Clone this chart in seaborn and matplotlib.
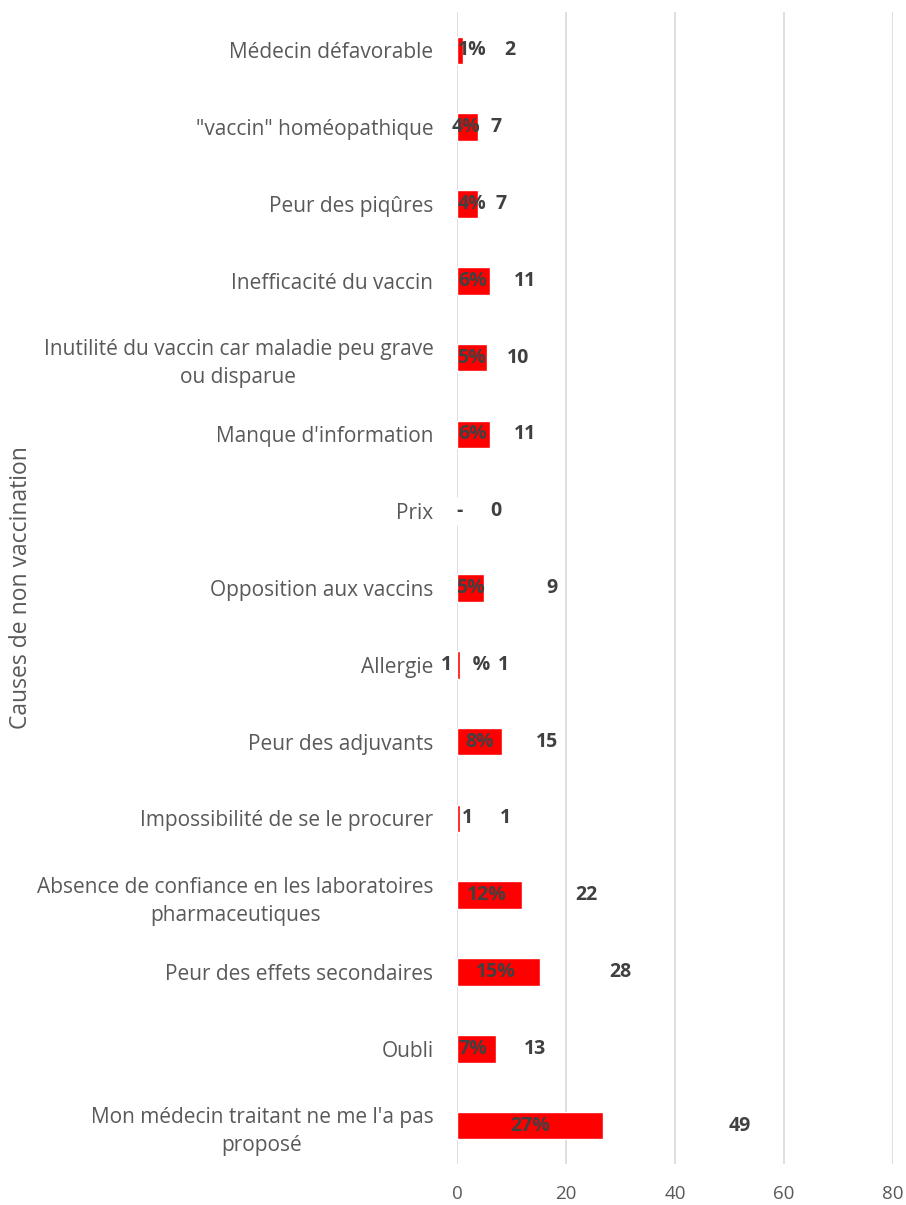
import matplotlib
matplotlib.use("Agg")
import matplotlib.pyplot as plt
import seaborn as sns
import pandas as pd

# ---- data ----
categories = [
    "Médecin défavorable",
    "\"vaccin\" homéopathique",
    "Peur des piqûres",
    "Inefficacité du vaccin",
    "Inutilité du vaccin car maladie peu grave\nou disparue",
    "Manque d'information",
    "Prix",
    "Opposition aux vaccins",
    "Allergie",
    "Peur des adjuvants",
    "Impossibilité de se le procurer",
    "Absence de confiance en les laboratoires\npharmaceutiques",
    "Peur des effets secondaires",
    "Oubli",
    "Mon médecin traitant ne me l'a pas\nproposé",
]
percent = [1.1, 3.8, 3.8, 6.0, 5.5, 6.0, 0.0, 4.9, 0.5, 8.2, 0.5, 12.0, 15.3, 7.1, 26.8]
counts = [2, 7, 7, 11, 10, 11, 0, 9, 1, 15, 1, 22, 28, 13, 49]
percent_labels = ["1%", "4%", "4%", "6%", "5%", "6%", "-", "5%", "1    %", "8%", "1",
                  "12%", "15%", "7%", "27%"]
x_ticks = [0, 20, 40, 60, 80]

# ---- label layout (x position in axis units) ----
pct_label_x = [2.85, 1.65, 2.75, 2.9, 2.6, 2.9, 0.4, 2.45, 1.65, 4.1, 2.0, 5.45, 7.1, 2.9, 13.4]
count_label_x = [9.7, 7.1, 8.0, 12.4, 11.2, 12.4, 7.1, 17.4, 8.5, 16.5, 8.9, 23.8, 30.0, 14.3, 51.9]

df = pd.DataFrame({"cause": categories, "pct": percent})

sns.set_style("white")
plt.rcParams["font.family"] = ["Open Sans", "DejaVu Sans"]

fig = plt.figure(figsize=(9.06, 12.05), dpi=100)
ax = fig.add_axes([457 / 906, 1 - 1164 / 1205, (893 - 457) / 906, (1164 - 12) / 1205])

sns.barplot(data=df, x="pct", y="cause", orient="h", color="#FF0000",
            saturation=1, width=0.36, ax=ax, zorder=3)

ax.set_xlim(0, 80)
ax.set_ylim(len(categories) - 0.5, -0.5)
ax.set_xticks(x_ticks)
ax.set_xticklabels([str(t) for t in x_ticks])
ax.grid(axis="x", color="#d9d9d9", linewidth=1.2, zorder=0)
ax.grid(axis="y", visible=False)
for s in ax.spines.values():
    s.set_visible(False)

ax.tick_params(axis="x", length=0, pad=15, labelsize=13.5, labelcolor="#595959")
ax.tick_params(axis="y", length=0, pad=17, labelsize=15, labelcolor="#595959")
for lab in ax.get_yticklabels():
    lab.set_multialignment("center")
    lab.set_linespacing(1.45)

ax.set_xlabel("")
ax.set_ylabel("Causes de non vaccination", fontsize=16.5, color="#595959", labelpad=0)
ax.yaxis.set_label_coords(-0.972, 0.5)

for i in range(len(categories)):
    ax.text(pct_label_x[i], i, percent_labels[i], ha="center", va="center",
            fontsize=14, fontweight="bold", color="#404040", zorder=5)
    ax.text(count_label_x[i], i, str(counts[i]), ha="center", va="center",
            fontsize=14, fontweight="bold", color="#404040", zorder=5)

fig.savefig("out.png", dpi=100)
